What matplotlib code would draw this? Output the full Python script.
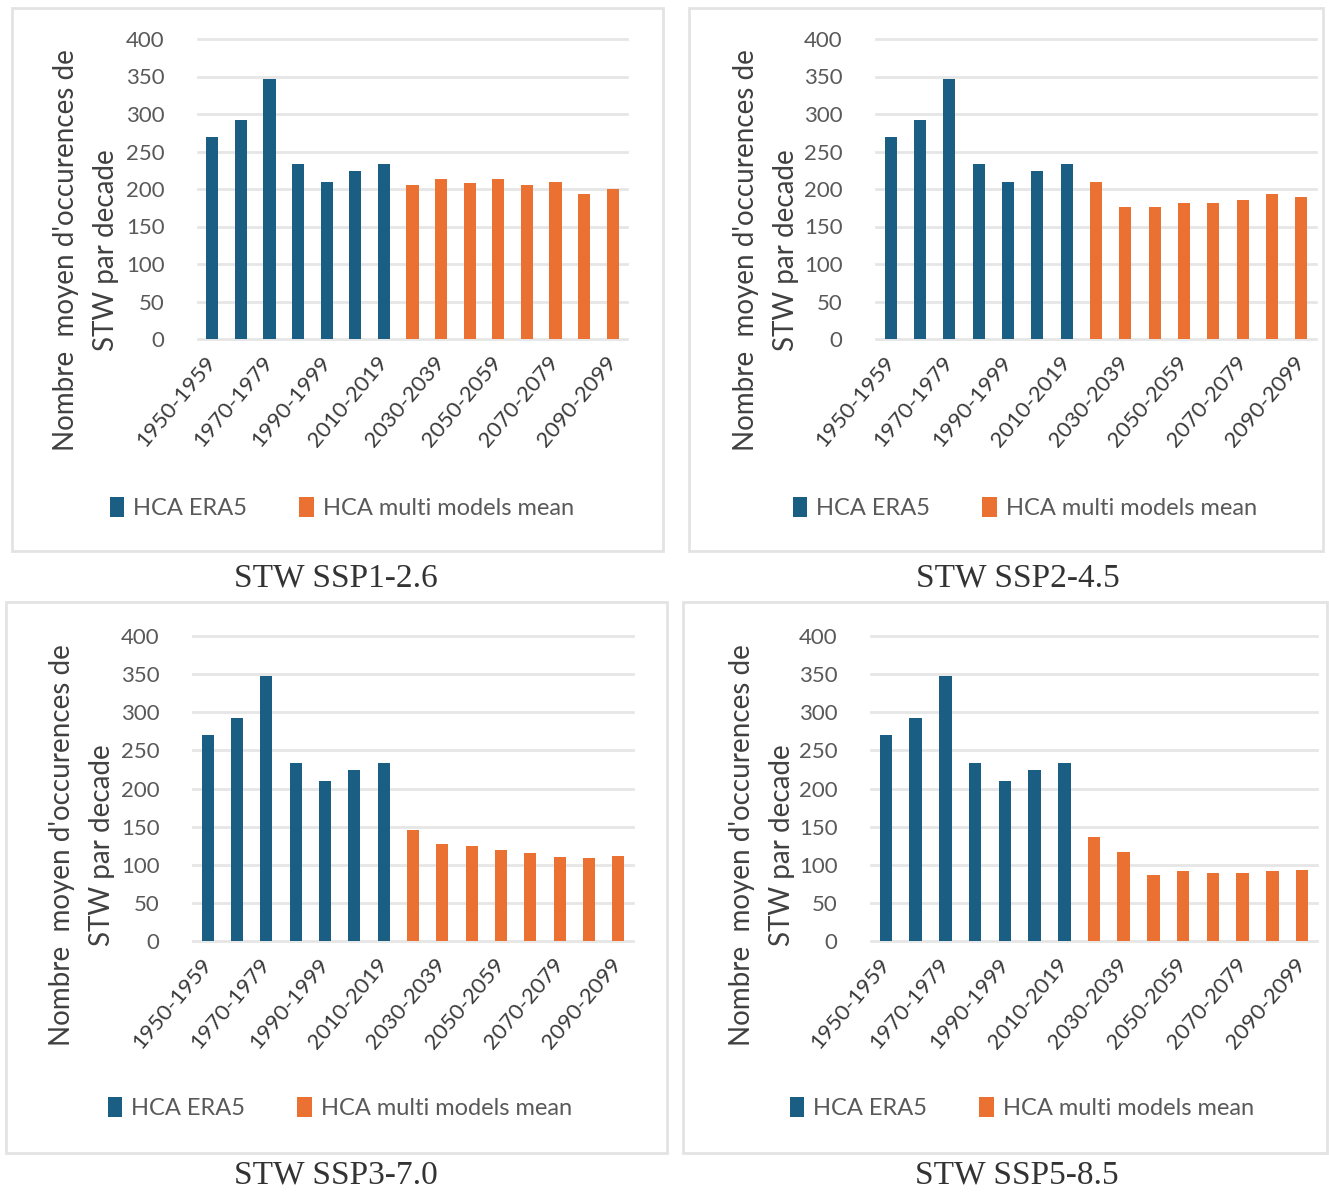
import matplotlib
matplotlib.use("Agg")
import matplotlib.pyplot as plt
from matplotlib.patches import Rectangle, Patch
import numpy as np

# ---- data -------------------------------------------------------------
decades = ["1950-1959", "1960-1969", "1970-1979", "1980-1989", "1990-1999",
           "2000-2009", "2010-2019", "2020-2029", "2030-2039", "2040-2049",
           "2050-2059", "2060-2069", "2070-2079", "2080-2089", "2090-2099"]

era5 = [270, 292, 347, 233, 210, 224, 233]          # HCA ERA5, 1950-2019

ssp126 = [205, 214, 208, 213, 205, 209, 194, 200]     # multi-model mean, 2020-2099
ssp245 = [209, 176, 176, 181, 181, 186, 193, 190]
ssp370 = [146, 127, 124, 120, 115, 110, 109, 111]
ssp585 = [137, 117, 87, 92, 89, 89, 92, 93]

scenarios = ["STW SSP1-2.6", "STW SSP2-4.5", "STW SSP3-7.0", "STW SSP5-8.5"]
series = [ssp126, ssp245, ssp370, ssp585]

yticks = [0, 50, 100, 150, 200, 250, 300, 350, 400]
ylabel = "Nombre  moyen d'occurences de\nSTW par decade"
legend_labels = ["HCA ERA5", "HCA multi models mean"]

# ---- style ------------------------------------------------------------
BLUE = "#1a5f83"
ORANGE = "#eb7133"
GRID = "#e6e6e6"
TXT = "#595959"
FONT = ["Lato", "DejaVu Sans"]

W, H = 1329, 1192
fig = plt.figure(figsize=(W / 100, H / 100), dpi=100)
fig.patch.set_facecolor("white")


def fx(px):
    return px / W


def fy(py):
    return 1 - py / H


# layout in pixels: frame box, plot area, y-label centre, legend centre, caption centre
panels = [
    dict(frame=(12, 8, 663, 551), area=(198, 39, 627, 339),
         ylab=(86, 250), leg=(342, 508), cap=(336, 578)),
    dict(frame=(689, 8, 1323, 551), area=(876, 39, 1316, 339),
         ylab=(766, 250), leg=(1025, 508), cap=(1018, 578)),
    dict(frame=(6, 602, 667, 1153), area=(193, 636, 633, 941),
         ylab=(82, 845), leg=(340, 1108), cap=(336, 1175)),
    dict(frame=(683, 602, 1327, 1153), area=(871, 636, 1317, 941),
         ylab=(762, 845), leg=(1022, 1108), cap=(1017, 1175)),
]

n_obs = len(era5)
x_all = np.arange(len(decades))

for p, vals, title in zip(panels, series, scenarios):
    # chart frame
    x0, y0, x1, y1 = p["frame"]
    fig.patches.append(Rectangle((fx(x0), fy(y1)), fx(x1 - x0), (y1 - y0) / H,
                                 transform=fig.transFigure, fill=False,
                                 edgecolor="#e3e3e3", linewidth=2))

    a0, b0, a1, b1 = p["area"]
    ax = fig.add_axes([fx(a0), fy(b1), fx(a1 - a0), (b1 - b0) / H])
    ax.bar(x_all[:n_obs], era5, width=0.42, color=BLUE, zorder=3)
    ax.bar(x_all[n_obs:], vals, width=0.42, color=ORANGE, zorder=3)

    ax.set_xlim(-0.5, len(decades) - 0.5)
    ax.set_ylim(0, 400)
    ax.set_yticks(yticks)
    ax.set_yticklabels([str(v) for v in yticks], fontsize=16, color=TXT,
                       family=FONT)
    ax.yaxis.grid(True, color=GRID, linewidth=2)
    for gl in ax.get_ygridlines():
        gl.set_clip_on(False)
    ax.set_axisbelow(True)
    for s in ax.spines.values():
        s.set_visible(False)
    ax.tick_params(axis="both", length=0)
    ax.tick_params(axis="y", pad=24)
    ax.tick_params(axis="x", pad=14)

    ax.set_xticks(x_all[::2])
    ax.set_xticklabels(decades[::2], rotation=50, ha="right", va="center",
                       rotation_mode="anchor", fontsize=16, color="#3a3a3a",
                       family=FONT)

    fig.text(fx(p["ylab"][0]), fy(p["ylab"][1]), ylabel, rotation=90,
             ha="center", va="center", multialignment="center",
             fontsize=20, color="#404040", family=FONT, linespacing=1.65)

    handles = [Patch(facecolor=BLUE), Patch(facecolor=ORANGE)]
    fig.legend(handles, legend_labels, loc="center",
               bbox_to_anchor=(fx(p["leg"][0]), fy(p["leg"][1])),
               ncol=2, frameon=False, handlelength=0.6, handleheight=0.9,
               handletextpad=0.4, columnspacing=2.2,
               prop=dict(family=FONT, size=17), labelcolor=TXT)

    fig.text(fx(p["cap"][0]), fy(p["cap"][1]), title, ha="center",
             va="center", fontsize=24, color="#333333",
             family=["Liberation Serif", "DejaVu Serif"])

fig.savefig("out.png", dpi=100, facecolor="white")
